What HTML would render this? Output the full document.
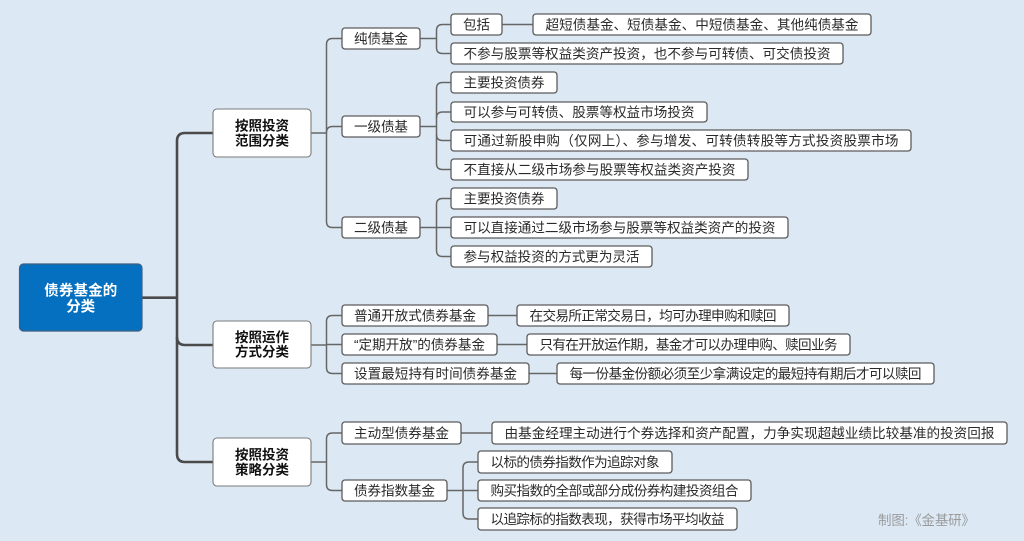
<!DOCTYPE html>
<html><head><meta charset="utf-8">
<style>
html,body{margin:0;padding:0;background:#dce9f5;}
svg{display:block;}
text{font-family:"Liberation Sans","Noto Sans CJK SC",sans-serif;}
.t{font-size:13.6px;fill:#2a2a2a;}
.b{font-size:13.5px;font-weight:bold;fill:#111;}
.r{font-size:14.5px;font-weight:bold;fill:#fff;}
.bx{fill:#fff;stroke:#5c5c5c;stroke-width:1.3;}
.bx1{fill:#fff;stroke:#7a7a7a;stroke-width:1.1;}
.c{fill:none;stroke:#666;stroke-width:1.5;}
.m{fill:none;stroke:#4a4a4a;stroke-width:2.6;}
</style></head>
<body>
<svg width="1024" height="541" viewBox="0 0 1024 541" xmlns="http://www.w3.org/2000/svg">
<rect width="1024" height="541" fill="#dce9f5"/>

<!-- main trunk -->
<path class="m" d="M142 297.7 H177"/>
<path class="m" d="M213 133 H185 Q177 133 177 141 V454 Q177 462 185 462 H213"/>
<path class="m" d="M177 337 Q177 345 185 345 H213"/>

<!-- L1a connectors -->
<path class="c" d="M311 133 H326.5"/>
<path class="c" d="M342 38.5 H332.5 Q326.5 38.5 326.5 44.5 V221.5 Q326.5 227.5 332.5 227.5 H342"/>
<path class="c" d="M326.5 132.5 Q326.5 126.5 332.5 126.5 H342"/>
<!-- L1b -->
<path class="c" d="M311 345 H326.5"/>
<path class="c" d="M342 315.5 H332.5 Q326.5 315.5 326.5 321.5 V367.5 Q326.5 373.5 332.5 373.5 H342"/>
<path class="c" d="M326.5 344.5 H342"/>
<!-- L1c -->
<path class="c" d="M311 462 H326.5"/>
<path class="c" d="M342 433 H332.5 Q326.5 433 326.5 439 V484.5 Q326.5 490.5 332.5 490.5 H342"/>

<!-- group A 纯债 -->
<path class="c" d="M420 38.5 H436.5"/>
<path class="c" d="M451 24.5 H442.5 Q436.5 24.5 436.5 30.5 V47.5 Q436.5 53.5 442.5 53.5 H451"/>
<!-- group B 一级 -->
<path class="c" d="M420 126.5 H436.5"/>
<path class="c" d="M451 82.5 H442.5 Q436.5 82.5 436.5 88.5 V163.5 Q436.5 169.5 442.5 169.5 H451"/>
<path class="c" d="M436.5 118 Q436.5 112 442.5 112 H451"/>
<path class="c" d="M436.5 134.5 Q436.5 140.5 442.5 140.5 H451"/>
<!-- group C 二级 -->
<path class="c" d="M420 227.5 H436.5"/>
<path class="c" d="M451 198.5 H442.5 Q436.5 198.5 436.5 204.5 V250.5 Q436.5 256.5 442.5 256.5 H451"/>
<path class="c" d="M436.5 227.5 H451"/>
<!-- group D 指数 -->
<path class="c" d="M447 490.5 H463"/>
<path class="c" d="M478 462 H469 Q463 462 463 468 V513 Q463 519 469 519 H478"/>
<path class="c" d="M463 490.5 H478"/>

<!-- straight links -->
<path class="c" d="M502 24.5 H533"/>
<path class="c" d="M488 315.5 H517"/>
<path class="c" d="M497 344.5 H527"/>
<path class="c" d="M529 373.5 H557"/>
<path class="c" d="M461 433 H492"/>

<!-- root -->
<rect x="19.5" y="264" width="122.5" height="67" rx="4" fill="#0670c0" stroke="#3d5f80" stroke-width="1.2"/>
<text class="r" x="80.7" y="295.5" text-anchor="middle" textLength="73">债券基金的</text>
<text class="r" x="80.7" y="311.5" text-anchor="middle">分类</text>

<!-- level 1 -->
<rect class="bx1" x="213" y="109" width="98" height="48" rx="4"/>
<text class="b" x="262" y="130.7" text-anchor="middle" textLength="54">按照投资</text>
<text class="b" x="262" y="145.3" text-anchor="middle" textLength="54">范围分类</text>
<rect class="bx1" x="213" y="321" width="98" height="47" rx="4"/>
<text class="b" x="262" y="342" text-anchor="middle" textLength="54">按照运作</text>
<text class="b" x="262" y="356.6" text-anchor="middle" textLength="54">方式分类</text>
<rect class="bx1" x="213" y="438" width="98" height="48" rx="4"/>
<text class="b" x="262" y="459.7" text-anchor="middle" textLength="54">按照投资</text>
<text class="b" x="262" y="474.3" text-anchor="middle" textLength="54">策略分类</text>

<!-- level 2 -->
<rect class="bx" x="342" y="28" width="78" height="21" rx="3"/>
<text class="t" x="381" y="43.5" text-anchor="middle" textLength="54">纯债基金</text>
<rect class="bx" x="342" y="116" width="78" height="21" rx="3"/>
<text class="t" x="381" y="131.5" text-anchor="middle" textLength="54">一级债基</text>
<rect class="bx" x="342" y="217" width="78" height="21" rx="3"/>
<text class="t" x="381" y="232.5" text-anchor="middle" textLength="54">二级债基</text>
<rect class="bx" x="342" y="305" width="146" height="21" rx="3"/>
<text class="t" x="415" y="320.5" text-anchor="middle" textLength="122">普通开放式债券基金</text>
<rect class="bx" x="342" y="334" width="155" height="21" rx="3"/>
<text class="t" x="419.5" y="349.5" text-anchor="middle" textLength="131">“定期开放”的债券基金</text>
<rect class="bx" x="342" y="363" width="187" height="21" rx="3"/>
<text class="t" x="435.5" y="378.5" text-anchor="middle" textLength="163">设置最短持有时间债券基金</text>
<rect class="bx" x="342" y="422" width="119" height="22" rx="3"/>
<text class="t" x="401.5" y="438" text-anchor="middle" textLength="95">主动型债券基金</text>
<rect class="bx" x="342" y="480" width="105" height="21" rx="3"/>
<text class="t" x="394.5" y="495.5" text-anchor="middle" textLength="81">债券指数基金</text>

<!-- level 3 -->
<rect class="bx" x="451" y="14" width="51" height="21" rx="3"/>
<text class="t" x="476.5" y="29.5" text-anchor="middle" textLength="27">包括</text>
<rect class="bx" x="533" y="14" width="338" height="21" rx="3"/>
<text class="t" x="702" y="29.5" text-anchor="middle" textLength="313">超短债基金、短债基金、中短债基金、其他纯债基金</text>
<rect class="bx" x="451" y="43" width="392" height="21" rx="3"/>
<text class="t" x="647" y="58.5" text-anchor="middle" textLength="367">不参与股票等权益类资产投资，也不参与可转债、可交债投资</text>

<rect class="bx" x="451" y="72" width="106" height="21" rx="3"/>
<text class="t" x="504" y="87.5" text-anchor="middle" textLength="81">主要投资债券</text>
<rect class="bx" x="451" y="102" width="256" height="20" rx="3"/>
<text class="t" x="579" y="117" text-anchor="middle" textLength="231">可以参与可转债、股票等权益市场投资</text>
<rect class="bx" x="451" y="130" width="460" height="21" rx="3"/>
<text class="t" x="681" y="145.5" text-anchor="middle" textLength="435">可通过新股申购（仅网上）、参与增发、可转债转股等方式投资股票市场</text>
<rect class="bx" x="451" y="159" width="297" height="21" rx="3"/>
<text class="t" x="599.5" y="174.5" text-anchor="middle" textLength="272">不直接从二级市场参与股票等权益类资产投资</text>

<rect class="bx" x="451" y="188" width="106" height="21" rx="3"/>
<text class="t" x="504" y="203.5" text-anchor="middle" textLength="81">主要投资债券</text>
<rect class="bx" x="451" y="217" width="337" height="21" rx="3"/>
<text class="t" x="619.5" y="232.5" text-anchor="middle" textLength="312">可以直接通过二级市场参与股票等权益类资产的投资</text>
<rect class="bx" x="451" y="246" width="201" height="21" rx="3"/>
<text class="t" x="551.5" y="261.5" text-anchor="middle" textLength="176">参与权益投资的方式更为灵活</text>

<rect class="bx" x="517" y="305" width="272" height="21" rx="3"/>
<text class="t" x="653" y="320.5" text-anchor="middle" textLength="247">在交易所正常交易日，均可办理申购和赎回</text>
<rect class="bx" x="527" y="334" width="323" height="21" rx="3"/>
<text class="t" x="688.5" y="349.5" text-anchor="middle" textLength="298">只有在开放运作期，基金才可以办理申购、赎回业务</text>
<rect class="bx" x="557" y="363" width="377" height="21" rx="3"/>
<text class="t" x="745.5" y="378.5" text-anchor="middle" textLength="352">每一份基金份额必须至少拿满设定的最短持有期后才可以赎回</text>

<rect class="bx" x="492" y="422" width="515" height="22" rx="3"/>
<text class="t" x="749.5" y="438" text-anchor="middle" textLength="490">由基金经理主动进行个券选择和资产配置，力争实现超越业绩比较基准的投资回报</text>
<rect class="bx" x="478" y="451" width="194" height="22" rx="3"/>
<text class="t" x="575" y="467" text-anchor="middle" textLength="169">以标的债券指数作为追踪对象</text>
<rect class="bx" x="478" y="480" width="273" height="21" rx="3"/>
<text class="t" x="614.5" y="495.5" text-anchor="middle" textLength="248">购买指数的全部或部分成份券构建投资组合</text>
<rect class="bx" x="478" y="508" width="259" height="22" rx="3"/>
<text class="t" x="607.5" y="524" text-anchor="middle" textLength="234">以追踪标的指数表现，获得市场平均收益</text>

<!-- watermark -->
<text x="975" y="525" text-anchor="end" font-size="13.5" fill="#9a9a9a" textLength="97">制图:《金基研》</text>
</svg>
</body></html>
